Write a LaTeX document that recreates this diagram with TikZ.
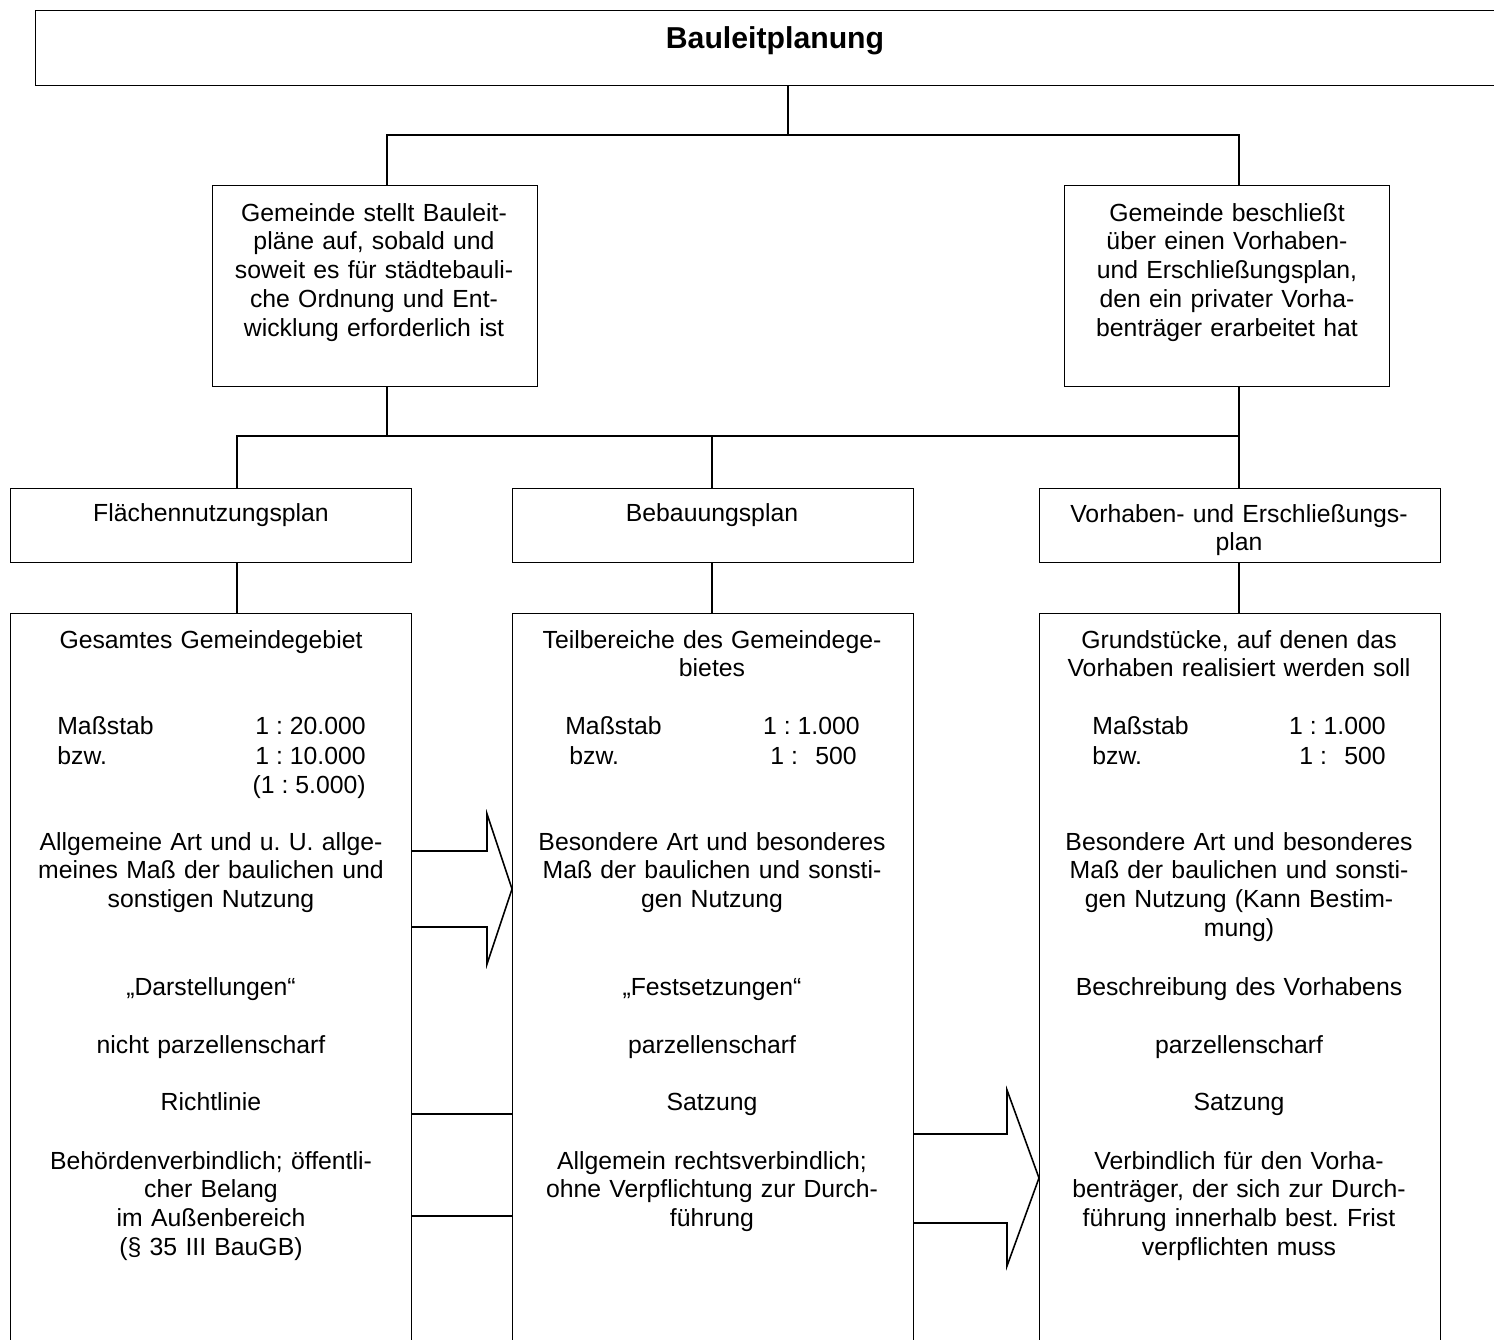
\documentclass[tikz,border=0pt]{standalone}
\usepackage{fontspec}
\setmainfont{Liberation Sans}
\frenchspacing
\usetikzlibrary{positioning, calc}

\begin{document}
\begin{tikzpicture}[
    x=0.02cm, y=-0.02cm,
    box/.style={rectangle, draw, anchor=north west, inner sep=0pt, line width=0.8pt},
    txt/.style={anchor=base, inner sep=0pt, align=center, text width=7.6cm, font=\fontsize{14.1}{16.4}\selectfont},
    lbl/.style={inner sep=0pt, font=\fontsize{14.1}{16.4}\selectfont},
    conn/.style={line width=0.8pt},
    bigarrow/.style={line width=0.9pt, line join=miter}
]
    \useasboundingbox (0,0) rectangle (1494,1339);
    \clip (0,0) rectangle (1494,1339);

    % boxes
    \node[box, minimum width=29.6cm, minimum height=1.5cm] (title) at (35,10) {};
    \node[box, minimum width=6.5cm, minimum height=4.02cm] (gemAuf) at (212,185) {};
    \node[box, minimum width=6.5cm, minimum height=4.02cm] (gemBeschl) at (1064,185) {};
    \node[box, minimum width=8.02cm, minimum height=1.48cm] (fnp) at (10,488) {};
    \node[box, minimum width=8.02cm, minimum height=1.48cm] (bplan) at (512,488) {};
    \node[box, minimum width=8.02cm, minimum height=1.48cm] (vep) at (1039,488) {};
    \node[box, minimum width=8.02cm, minimum height=16cm] (fnpInfo) at (10,613) {};
    \node[box, minimum width=8.02cm, minimum height=16cm] (bplanInfo) at (512,613) {};
    \node[box, minimum width=8.02cm, minimum height=16cm] (vepInfo) at (1039,613) {};

    % connectors
    \coordinate (split) at (788,135);
    \coordinate (splitA) at (387,135);
    \coordinate (splitB) at (1239,135);
    \draw[conn] (split |- title.south) -- (split);
    \draw[conn] (splitA |- gemAuf.north) -- (splitA) -- (splitB) -- (splitB |- gemBeschl.north);

    \coordinate (joinA) at (387,436);
    \coordinate (joinB) at (1239,436);
    \coordinate (joinF) at (237,436);
    \coordinate (joinM) at (712,436);
    \draw[conn] (joinA |- gemAuf.south) -- (joinA);
    \draw[conn] (joinB |- gemBeschl.south) -- (joinB);
    \draw[conn] (joinF |- fnp.north) -- (joinF) -- (joinB) -- (joinB |- vep.north);
    \draw[conn] (joinM) -- (joinM |- bplan.north);
    \draw[conn] (joinF |- fnp.south) -- (joinF |- fnpInfo.north);
    \draw[conn] (joinM |- bplan.south) -- (joinM |- bplanInfo.north);
    \draw[conn] (joinB |- vep.south) -- (joinB |- vepInfo.north);

    \coordinate (link1) at (460,1114);
    \coordinate (link2) at (460,1216);
    \draw[conn] (link1 -| fnpInfo.east) -- (link1 -| bplanInfo.west);
    \draw[conn] (link2 -| fnpInfo.east) -- (link2 -| bplanInfo.west);

    % block arrows
    \draw[bigarrow] (411,851) -- (487,851) -- (487,814) -- (512,889) -- (487,964) -- (487,927) -- (411,927);
    \draw[bigarrow] (913,1134) -- (1007,1134) -- (1007,1090) -- (1039,1178) -- (1007,1266) -- (1007,1223) -- (913,1223);

    % texts
    \node[lbl, anchor=base, font=\fontsize{17.2}{20}\selectfont\bfseries] (titleText) at (775,48) {Bauleitplanung};
    \node[txt, text width=6.2cm] (gemAufText) at (374,221) {Gemeinde stellt Bauleit-\\pläne auf, sobald und\\soweit es für städtebauli-\\che Ordnung und Ent-\\wicklung erforderlich ist};
    \node[txt, text width=6.2cm] (gemBeschlText) at (1227,221) {Gemeinde beschließt\\über einen Vorhaben-\\und Erschließungsplan,\\den ein privater Vorha-\\benträger erarbeitet hat};

    \node[txt] (fnpText) at (211,521) {Flächennutzungsplan};
    \node[txt] (bplanText) at (712,521) {Bebauungsplan};
    \node[txt] (vepText) at (1239,522) {Vorhaben- und Erschließungs-\\plan};

    % Flaechennutzungsplan
    \node[txt] (fnpArea) at (211,648) {Gesamtes Gemeindegebiet};
    \node[lbl, anchor=base west] (fnpMass) at (57,734) {Maßstab};
    \node[lbl, anchor=base west] (fnpBzw) at (57,764) {bzw.};
    \node[lbl, anchor=base east] (fnpVal1) at (366,734) {1 : 20.000};
    \node[lbl, anchor=base east] (fnpVal2) at (366,764) {1 : 10.000};
    \node[lbl, anchor=base east] (fnpVal3) at (366,793) {(1 : 5.000)};
    \node[txt] (fnpUse) at (211,850) {Allgemeine Art und u. U. allge-\\meines Maß der baulichen und\\sonstigen Nutzung};
    \node[txt] (fnpKind) at (211,995) {„Darstellungen“};
    \node[txt] (fnpSharp) at (211,1053) {nicht parzellenscharf};
    \node[txt] (fnpForm) at (211,1110) {Richtlinie};
    \node[txt] (fnpBind) at (211,1169) {Behördenverbindlich; öffentli-\\cher Belang\\im Außenbereich\\(§ 35 III BauGB)};

    % Bebauungsplan
    \node[txt] (bplanArea) at (712,648) {Teilbereiche des Gemeindege-\\bietes};
    \node[lbl, anchor=base west] (bplanMass) at (565,734) {Maßstab};
    \node[lbl, anchor=base west] (bplanBzw) at (569,764) {bzw.};
    \node[lbl, anchor=base east] (bplanVal1) at (860,734) {1 : 1.000};
    \node[lbl, anchor=base east] (bplanVal2) at (857,764) {1 :\hspace{0.7em}500};
    \node[txt] (bplanUse) at (712,850) {Besondere Art und besonderes\\Maß der baulichen und sonsti-\\gen Nutzung};
    \node[txt] (bplanKind) at (712,995) {„Festsetzungen“};
    \node[txt] (bplanSharp) at (712,1053) {parzellenscharf};
    \node[txt] (bplanForm) at (712,1110) {Satzung};
    \node[txt] (bplanBind) at (712,1169) {Allgemein rechtsverbindlich;\\ohne Verpflichtung zur Durch-\\führung};

    % Vorhaben- und Erschliessungsplan
    \node[txt] (vepArea) at (1239,648) {Grundstücke, auf denen das\\Vorhaben realisiert werden soll};
    \node[lbl, anchor=base west] (vepMass) at (1092,734) {Maßstab};
    \node[lbl, anchor=base west] (vepBzw) at (1092,764) {bzw.};
    \node[lbl, anchor=base east] (vepVal1) at (1386,734) {1 : 1.000};
    \node[lbl, anchor=base east] (vepVal2) at (1386,764) {1 :\hspace{0.7em}500};
    \node[txt] (vepUse) at (1239,850) {Besondere Art und besonderes\\Maß der baulichen und sonsti-\\gen Nutzung (Kann Bestim-\\mung)};
    \node[txt] (vepKind) at (1239,995) {Beschreibung des Vorhabens};
    \node[txt] (vepSharp) at (1239,1053) {parzellenscharf};
    \node[txt] (vepForm) at (1239,1110) {Satzung};
    \node[txt] (vepBind) at (1239,1169) {Verbindlich für den Vorha-\\benträger, der sich zur Durch-\\führung innerhalb best. Frist\\verpflichten muss};
\end{tikzpicture}
\end{document}
